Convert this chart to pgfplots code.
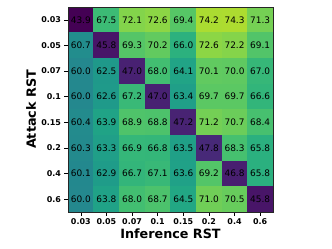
\documentclass[border=0pt]{standalone}
\usepackage{fontspec}
\setmainfont{DejaVu Sans}
\usepackage{pgfplots}
\pgfplotsset{compat=1.18}
\usepackage{pgfplotstable}
\pgfplotstableread{
x y v
0 0 43.9
1 0 67.5
2 0 72.1
3 0 72.6
4 0 69.4
5 0 74.2
6 0 74.3
7 0 71.3
0 1 60.7
1 1 45.8
2 1 69.3
3 1 70.2
4 1 66.0
5 1 72.6
6 1 72.2
7 1 69.1
0 2 60.0
1 2 62.5
2 2 47.0
3 2 68.0
4 2 64.1
5 2 70.1
6 2 70.0
7 2 67.0
0 3 60.0
1 3 62.6
2 3 67.2
3 3 47.0
4 3 63.4
5 3 69.7
6 3 69.7
7 3 66.6
0 4 60.4
1 4 63.9
2 4 68.9
3 4 68.8
4 4 47.2
5 4 71.2
6 4 70.7
7 4 68.4
0 5 60.3
1 5 63.3
2 5 66.9
3 5 66.8
4 5 63.5
5 5 47.8
6 5 68.3
7 5 65.8
0 6 60.1
1 6 62.9
2 6 66.7
3 6 67.1
4 6 63.6
5 6 69.2
6 6 46.8
7 6 65.8
0 7 60.0
1 7 63.8
2 7 68.0
3 7 68.7
4 7 64.5
5 7 71.0
6 7 70.5
7 7 45.8
}\heat
\begin{document}
\begin{tikzpicture}
\path[use as bounding box] (0,0) rectangle (332bp,249bp);
\begin{axis}[
  at={(68bp,37bp)}, anchor=south west,
  scale only axis, width=205bp, height=205bp,
  xmin=-0.5, xmax=7.5, ymin=-0.5, ymax=7.5,
  y dir=reverse,
  colormap/viridis,
  point meta min=43.9, point meta max=78.5,
  xtick={0,...,7}, ytick={0,...,7},
  xticklabels={0.03,0.05,0.07,0.1,0.15,0.2,0.4,0.6},
  yticklabels={0.03,0.05,0.07,0.1,0.15,0.2,0.4,0.6},
  tick align=outside, major tick length=3.5bp,
  xtick pos=bottom, ytick pos=left,
  tick style={black, line width=0.6bp},
  ticklabel style={font=\fontsize{8}{9}\selectfont\bfseries},
  xlabel={Inference RST}, ylabel={Attack RST},
  label style={font=\fontsize{12.8}{14}\selectfont\bfseries},
  xlabel style={yshift=3bp},
  ylabel style={yshift=-1.5bp},
  axis line style={black!85, line width=0.7bp},
  enlargelimits=false,
  axis on top,
  nodes near coords={\pgfmathprintnumber[fixed,fixed zerofill,precision=1,assume math mode=true]{\pgfplotspointmeta}},
  every node near coord/.append style={anchor=center, font=\fontsize{9}{10}\selectfont, black},
]
\addplot[matrix plot*, mesh/cols=8, point meta=explicit, nodes near coords align=center] table[x=x, y=y, meta=v] {\heat};
\end{axis}
\end{tikzpicture}
\end{document}
